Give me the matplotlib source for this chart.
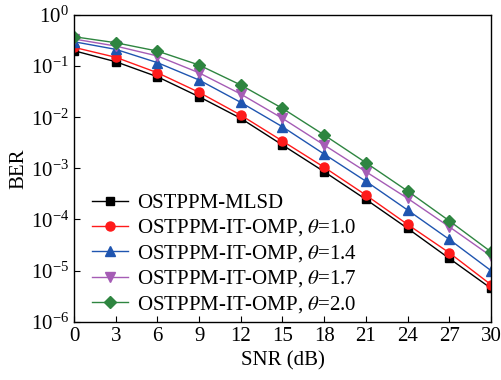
import numpy as np
import matplotlib
matplotlib.use("Agg")
import matplotlib.pyplot as plt

plt.rcParams['font.family'] = ['Liberation Serif', 'DejaVu Serif']
plt.rcParams['mathtext.fontset'] = 'stix'

# -----------------------------
# data
# -----------------------------
snr = [0, 3, 6, 9, 12, 15, 18, 21, 24, 27, 30]

ber_mlsd = [0.200, 0.122, 0.062, 0.0252, 0.0095, 0.00286, 8.6e-4, 2.47e-4, 6.7e-5, 1.73e-5, 4.5e-6]
ber_t10 = [0.233, 0.149, 0.0743, 0.0307, 0.0110, 0.00342, 1.05e-3, 3.0e-4, 8.0e-5, 2.23e-5, 5.3e-6]
ber_t14 = [0.300, 0.213, 0.117, 0.0535, 0.0195, 0.0065, 0.0019, 5.6e-4, 1.53e-4, 4.07e-5, 1.0e-5]
ber_t17 = [0.339, 0.247, 0.158, 0.074, 0.0284, 0.0095, 0.00286, 8.6e-4, 2.59e-4, 7.2e-5, 1.92e-5]
ber_t20 = [0.376, 0.287, 0.197, 0.105, 0.0427, 0.0149, 0.00449, 1.29e-3, 3.6e-4, 9.4e-5, 2.33e-5]

labels = ['OSTPPM-MLSD',
          r'OSTPPM-IT-OMP, $\theta$=1.0',
          r'OSTPPM-IT-OMP, $\theta$=1.4',
          r'OSTPPM-IT-OMP, $\theta$=1.7',
          r'OSTPPM-IT-OMP, $\theta$=2.0']
series = [ber_mlsd, ber_t10, ber_t14, ber_t17, ber_t20]
colors = ['#000000', '#ff1a1a', '#1f55b0', '#a55cb5', '#2e8540']
markers = ['s', 'o', '^', 'v', 'D']
msizes = [5.5, 6.5, 7, 7, 6]

# -----------------------------
# plot
# -----------------------------
fig = plt.figure(figsize=(5.01, 3.80), dpi=100)
ax = fig.add_axes([0.1477, 0.1534, 0.8323, 0.8071])

for y, lab, c, m, ms in zip(series, labels, colors, markers, msizes):
    ax.semilogy(snr, y, color=c, marker=m, markersize=ms, linewidth=1.0,
                label=lab)

ax.set_xlim(0, 30)
ax.set_ylim(1e-6, 1)
ax.set_xticks(snr)
ax.set_yticks([1e-6, 1e-5, 1e-4, 1e-3, 1e-2, 1e-1, 1e0])
ax.minorticks_off()
ax.tick_params(direction='in', labelsize=15, length=4)
ax.set_xlabel('SNR (dB)', fontsize=15, labelpad=4)
ax.set_ylabel('BER', fontsize=15, labelpad=2)
for s in ax.spines.values():
    s.set_linewidth(1.0)

ax.legend(loc='lower left', frameon=False, fontsize=15, handlelength=1.75,
          handletextpad=0.45, labelspacing=0.22, borderaxespad=0.0,
          bbox_to_anchor=(0.022, -0.005))

fig.savefig('out.png', dpi=100)
